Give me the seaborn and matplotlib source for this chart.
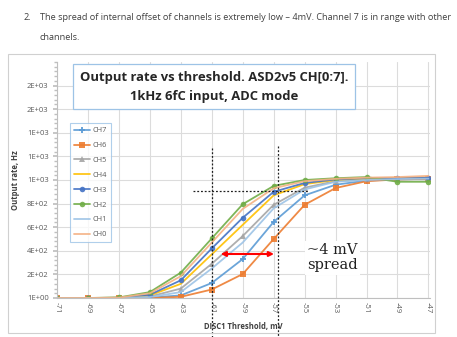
import matplotlib
matplotlib.use("Agg")
import matplotlib.pyplot as plt
import seaborn as sns
import pandas as pd
from matplotlib.patches import Rectangle
from matplotlib.ticker import MultipleLocator

sns.set_theme(style="white")
plt.rcParams['font.family'] = ['Open Sans', 'DejaVu Sans']

thresholds = [-71, -69, -67, -65, -63, -61, -59, -57, -55, -53, -51, -49, -47]
ch0 = [0, 0, 3, 40, 185, 470, 755, 930, 990, 1010, 1020, 1025, 1035]
ch1 = [0, 0, 1, 8, 50, 250, 470, 760, 920, 985, 1000, 1008, 1012]
ch2 = [0, 0, 5, 50, 215, 505, 795, 950, 1000, 1015, 1025, 985, 985]
ch3 = [0, 0, 2, 28, 150, 420, 680, 900, 975, 1005, 1015, 1015, 1020]
ch4 = [0, 0, 2, 22, 120, 370, 620, 870, 965, 1000, 1010, 1015, 1020]
ch5 = [0, 0, 1, 12, 80, 290, 525, 790, 935, 990, 1005, 1010, 1015]
ch6 = [0, 0, 0, 0, 10, 72, 203, 500, 790, 932, 990, 1005, 1010]
ch7 = [0, 0, 0, 3, 22, 127, 330, 645, 870, 960, 995, 1005, 1010]

channels = ["CH7", "CH6", "CH5", "CH4", "CH3", "CH2", "CH1", "CH0"]
series = [ch7, ch6, ch5, ch4, ch3, ch2, ch1, ch0]
colors = ["#5b9bd5", "#ed7d31", "#a5a5a5", "#ffc000", "#4472c4", "#70ad47", "#9dc3e6", "#f4b183"]
markers = ["P", "s", "^", "", "o", "o", "", ""]

ytick_vals = [0, 200, 400, 600, 800, 1000, 1200, 1400, 1600, 1800]
ytick_labels = ["1E+00", "2E+02", "4E+02", "6E+02", "8E+02", "1E+03", "1E+03", "1E+03", "2E+03", "2E+03"]

W, H = 457, 337
fig = plt.figure(figsize=(W / 100, H / 100), dpi=100)

# slide text
fig.text(23 / W, 1 - 17 / H, "2.", fontsize=6.6, color="#404040", va="center")
fig.text(40 / W, 1 - 17 / H,
         "The spread of internal offset of channels is extremely low \u2013 4mV. Channel 7 is in range with other",
         fontsize=6.6, color="#404040", va="center")
fig.text(40 / W, 1 - 38 / H, "channels.", fontsize=6.6, color="#404040", va="center")

# chart frame
fig.patches.append(Rectangle((8 / W, 1 - 333 / H), (435 - 8) / W, (333 - 54) / H,
                             transform=fig.transFigure, fill=False, edgecolor="#d0d0d0", lw=0.8))

ax = fig.add_axes([57 / W, 1 - 298 / H, (430 - 57) / W, (298 - 62) / H])

for name, vals, col, mk in zip(channels, series, colors, markers):
    df = pd.DataFrame({"thr": thresholds, "rate": vals})
    sns.lineplot(data=df, x="thr", y="rate", ax=ax, color=col, lw=1.3,
                 marker=mk if mk else None, markersize=4 if mk != "P" else 4.5,
                 markeredgewidth=0, label=name, alpha=0.9)

ax.set_xlim(-71, -46.9)
ax.set_ylim(0, 2000)
ax.set_xticks(thresholds)
ax.set_xticklabels([str(t) for t in thresholds], rotation=-90, fontsize=5.5, color="#595959")
ax.set_yticks(ytick_vals)
ax.set_yticklabels(ytick_labels, fontsize=5.5, color="#595959")
ax.yaxis.set_minor_locator(MultipleLocator(40))
ax.tick_params(axis="y", which="minor", length=2, color="#bfbfbf", left=True)
ax.tick_params(axis="y", which="major", length=3, color="#bfbfbf", left=True, pad=3)
ax.tick_params(axis="x", length=0, pad=3)
ax.grid(True, color="#dcdcdc", lw=0.8)
for s in ["top", "right"]:
    ax.spines[s].set_visible(False)
for s in ["left", "bottom"]:
    ax.spines[s].set_color("#bfbfbf")
    ax.spines[s].set_linewidth(0.8)

ax.set_xlabel("DISC1 Threshold, mV", fontsize=5.5, fontweight="bold", color="#404040", labelpad=6)
ax.set_ylabel("Output rate, Hz", fontsize=5.5, fontweight="bold", color="#404040", labelpad=5)

leg = ax.legend(loc="upper left", bbox_to_anchor=(13 / 373, 1 - 61 / 236), fontsize=5.3,
                frameon=True, fancybox=False, handlelength=2.2, handletextpad=0.3,
                labelspacing=1.05, borderpad=0.55, borderaxespad=0)
leg.get_frame().set_edgecolor("#9dc3e6")
leg.get_frame().set_linewidth(0.8)
for t in leg.get_texts():
    t.set_color("#595959")

# title box
ax.text(-71 + (214 - 57) / 15.45, 1790,
        "Output rate vs threshold. ASD2v5 CH[0:7].\n1kHz 6fC input, ADC mode",
        ha="center", va="center", fontsize=9.4, fontweight="bold", color="#262626",
        linespacing=1.6,
        bbox=dict(boxstyle="square,pad=0.5", facecolor="white", edgecolor="#9dc3e6", lw=0.9),
        zorder=10)

# annotations
ax.plot([-62.2, -54.8], [905, 905], ls=(0, (1.5, 1.5)), color="#202020", lw=0.9, zorder=6)
ax.plot([-61, -61], [1270, -330], ls=(0, (1.5, 1.5)), color="#202020", lw=0.9, clip_on=False, zorder=6)
ax.plot([-56.75, -56.75], [1285, -330], ls=(0, (1.5, 1.5)), color="#202020", lw=0.9, clip_on=False, zorder=6)
ax.annotate("", xy=(-60.6, 373), xytext=(-56.8, 373),
            arrowprops=dict(arrowstyle="<|-|>", color="red", lw=1.5, mutation_scale=7), zorder=7)
ax.text(-53.2, 340, "~4 mV\nspread", ha="center", va="center", fontsize=10.5,
        family="DejaVu Serif", color="#202020", linespacing=1.1,
        bbox=dict(boxstyle="square,pad=0.15", facecolor="white", edgecolor="none"), zorder=8)

fig.savefig("out.png", dpi=100, facecolor="white")
